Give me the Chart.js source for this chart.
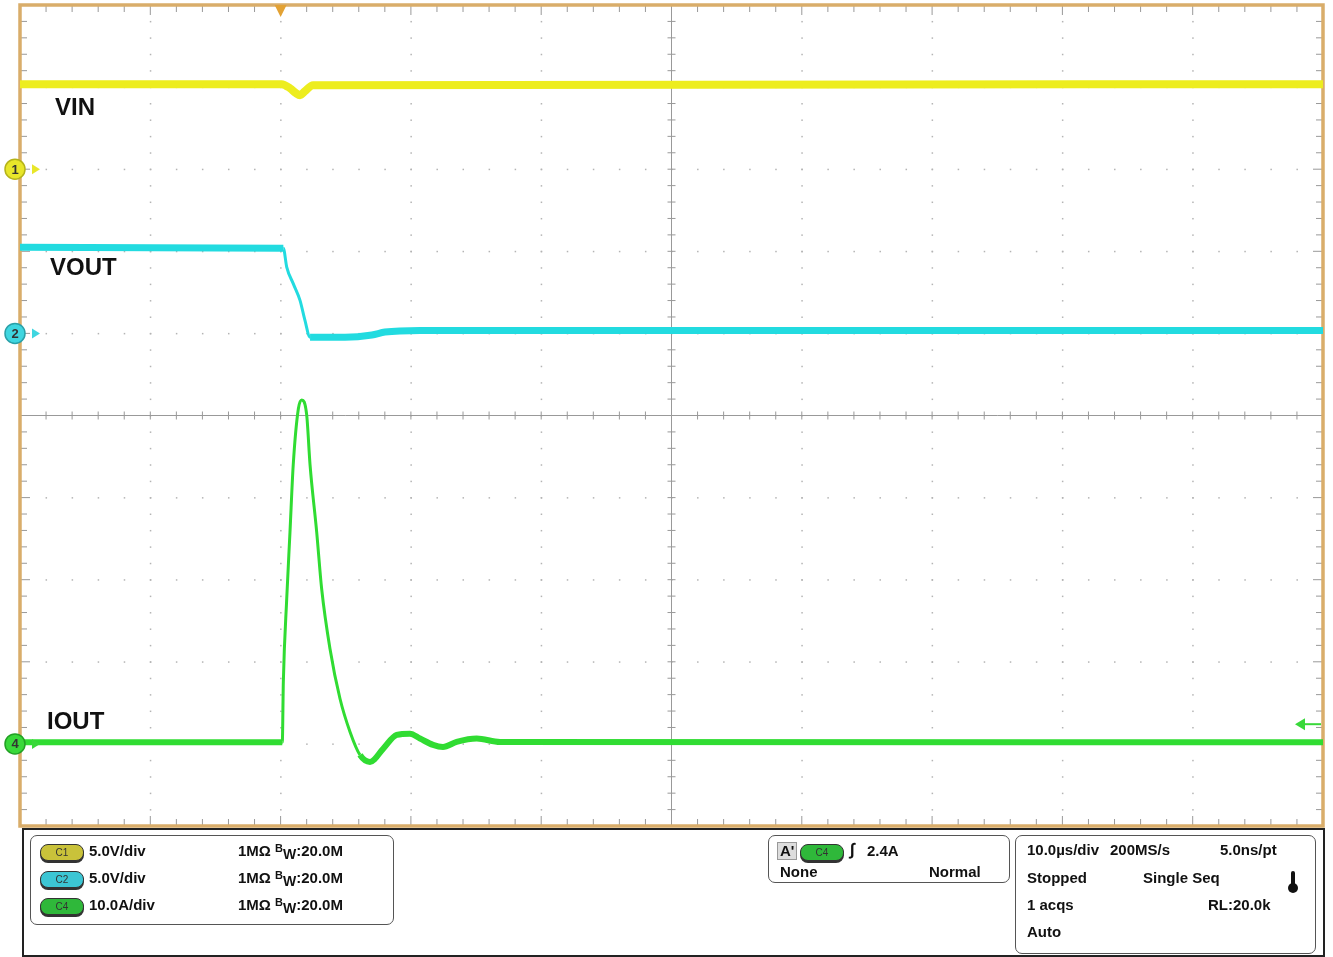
<!DOCTYPE html>
<html>
<head>
<meta charset="utf-8">
<script src="https://cdn.jsdelivr.net/npm/chart.js@4.4.1/dist/chart.umd.min.js"></script>
<style>
  body { margin: 0; background: #fff; font-family: "Liberation Sans", Arial, sans-serif; }
  #wrap { position: relative; width: 1333px; height: 957px; }
  #scope { position: absolute; left: 0; top: 0; }
  .t { position: absolute; font-size: 15px; font-weight: bold; line-height: 18px; color: #111; white-space: nowrap; }
  .box { position: absolute; border: 1.5px solid #555; border-radius: 7px; }
  .pill { position: absolute; width: 42px; height: 15px; border-radius: 8px; border: 1px solid #333;
          font-size: 10px; line-height: 15px; text-align: center; color: #333; box-shadow: 0 2px 0 #333; }
  .sub { font-size: 11px; position: relative; top: -4px; }
  .sub2 { position: relative; top: 3px; font-size: 14px; }
</style>
</head>
<body>
<div id="wrap">
  <canvas id="scope" width="1333" height="957"></canvas>

  <div style="position:absolute;left:22px;top:828px;width:1299px;height:125px;border:2px solid #222;"></div>

  <div class="box" style="left:30px;top:835px;width:362px;height:88px;"></div>
  <div class="pill" style="left:40px;top:844px;background:#c9c23a;">C1</div>
  <div class="pill" style="left:40px;top:871px;background:#3cc6d4;">C2</div>
  <div class="pill" style="left:40px;top:898px;background:#2fb83a;">C4</div>
  <div class="t" style="left:89px;top:842px;">5.0V/div</div>
  <div class="t" style="left:89px;top:869px;">5.0V/div</div>
  <div class="t" style="left:89px;top:896px;">10.0A/div</div>
  <div class="t" style="left:238px;top:842px;">1MΩ <span class="sub">B</span><span class="sub2">W</span>:20.0M</div>
  <div class="t" style="left:238px;top:869px;">1MΩ <span class="sub">B</span><span class="sub2">W</span>:20.0M</div>
  <div class="t" style="left:238px;top:896px;">1MΩ <span class="sub">B</span><span class="sub2">W</span>:20.0M</div>

  <div class="box" style="left:768px;top:835px;width:240px;height:46px;"></div>
  <div class="t" style="left:777px;top:842px;background:#ddd;border:1px solid #999;padding:0 2px;line-height:16px;">A'</div>
  <div class="pill" style="left:800px;top:844px;background:#2fb83a;">C4</div>
  <div class="t" style="left:850px;top:841px;font-size:17px;font-style:italic;">∫</div>
  <div class="t" style="left:867px;top:842px;">2.4A</div>
  <div class="t" style="left:780px;top:863px;">None</div>
  <div class="t" style="left:929px;top:863px;">Normal</div>

  <div class="box" style="left:1015px;top:835px;width:299px;height:117px;"></div>
  <div class="t" style="left:1027px;top:841px;">10.0µs/div</div>
  <div class="t" style="left:1110px;top:841px;">200MS/s</div>
  <div class="t" style="left:1220px;top:841px;">5.0ns/pt</div>
  <div class="t" style="left:1027px;top:869px;">Stopped</div>
  <div class="t" style="left:1143px;top:869px;">Single Seq</div>
  <div class="t" style="left:1027px;top:896px;">1 acqs</div>
  <div class="t" style="left:1208px;top:896px;">RL:20.0k</div>
  <div class="t" style="left:1027px;top:923px;">Auto</div>
  <div style="position:absolute;left:1291px;top:871px;width:4px;height:16px;background:#111;border-radius:2px;"></div>
  <div style="position:absolute;left:1288px;top:883px;width:10px;height:10px;background:#111;border-radius:5px;"></div>
</div>

<script>
// time in microseconds (10 us/div, trigger at 20 us)
const vinTime = [0, 20.08, 20.72, 21.18, 21.49, 21.87, 22.49, 100];
const vinVolts = [5.18, 5.18, 4.93, 4.63, 4.51, 4.75, 5.12, 5.18];

const voutTime = [0, 20.21, 20.47, 20.97, 21.49, 21.87, 22.26, 24.94, 27.01, 28.01, 30.70, 100];
const voutVolts = [5.25, 5.18, 4.04, 3.03, 2.01, 0.79, -0.23, -0.24, -0.1, 0.08, 0.18, 0.18];

const ioutTime = [0, 20.13, 20.21, 20.47, 20.72, 20.97, 21.36, 21.62, 22.00, 22.26, 22.77, 23.15,
                  23.79, 24.56, 25.33, 26.09, 26.86, 27.88, 28.91, 29.93, 30.70, 31.70, 32.46,
                  33.51, 35.05, 36.84, 100];
const ioutAmps = [0.2, 0.2, 7.55, 17.7, 25.8, 34.0, 40.8, 41.9, 40.1, 34.0, 25.8, 18.9,
                  11.6, 5.5, 1.46, -1.34, -2.19, -0.57, 1.10, 1.25, 0.65, -0.12, -0.37,
                  0.24, 0.65, 0.24, 0.2];

const traceNames = ['VIN', 'VOUT', 'IOUT'];
const triggerTime = 20;
const triggerLevel = 2.4;

const pts = (xs, ys) => xs.map((t, i) => ({ x: t, y: ys[i] }));
// steep edges are drawn thinner than the noisy flat parts
const slimOnSlope = w => ({
  borderWidth: c => Math.abs(c.p1.y - c.p0.y) / Math.max(c.p1.x - c.p0.x, 0.5) > 1.5 ? 3 : w
});

const graticule = {
  id: 'graticule',
  beforeDatasetsDraw(chart) {
    const { ctx, chartArea: a, scales: { x, yI } } = chart;
    const stepY = a.height / 50, stepX = a.width / 50;
    const cx = x.getPixelForValue(50), cy = yI.getPixelForValue(40);
    ctx.save();
    ctx.fillStyle = '#b4b4b4';
    for (let i = 1; i < 10; i++) {
      if (i === 5) continue;
      const px = x.getPixelForValue(i * 10);
      for (let k = 1; k < 50; k++) ctx.fillRect(px - 0.5, a.top + k * stepY - 0.5, 1.5, 1.5);
      const py = yI.getPixelForValue(i * 10 - 10);
      for (let k = 1; k < 50; k++) ctx.fillRect(a.left + k * stepX - 0.5, py - 0.5, 1.5, 1.5);
    }
    ctx.strokeStyle = '#999';
    ctx.lineWidth = 1;
    ctx.beginPath();
    ctx.moveTo(cx, a.top); ctx.lineTo(cx, a.bottom);
    ctx.moveTo(a.left, cy); ctx.lineTo(a.right, cy);
    for (let k = 1; k < 50; k++) {
      const ty = a.top + k * stepY, tx = a.left + k * stepX;
      ctx.moveTo(cx - 4, ty); ctx.lineTo(cx + 4, ty);
      ctx.moveTo(tx, cy - 4); ctx.lineTo(tx, cy + 4);
      const len = k % 5 === 0 ? 10 : 7;
      ctx.moveTo(a.left, ty); ctx.lineTo(a.left + len, ty);
      ctx.moveTo(a.right, ty); ctx.lineTo(a.right - len, ty);
      ctx.moveTo(tx, a.top); ctx.lineTo(tx, a.top + len);
      ctx.moveTo(tx, a.bottom); ctx.lineTo(tx, a.bottom - len);
    }
    ctx.stroke();
    ctx.strokeStyle = '#d9ad6a';
    ctx.lineWidth = 3.5;
    ctx.strokeRect(a.left, a.top, a.width, a.height);
    ctx.restore();
  },
  afterDatasetsDraw(chart) {
    const { ctx, chartArea: a, scales: { x, yV1, yV2, yI } } = chart;
    ctx.save();
    // trace labels
    ctx.fillStyle = '#111';
    ctx.font = 'bold 24px "Liberation Sans", Arial, sans-serif';
    ctx.textBaseline = 'middle';
    ctx.fillText(traceNames[0], 55, 108);
    ctx.fillText(traceNames[1], 50, 268);
    ctx.fillText(traceNames[2], 47, 722);
    // channel ground markers
    const marks = [
      [yV1.getPixelForValue(0), '#e8e62a', '#b5b31a', '1'],
      [yV2.getPixelForValue(0), '#3fd6e0', '#2aa0a8', '2'],
      [yI.getPixelForValue(0), '#39d83a', '#22a024', '4']
    ];
    for (const [py, fill, ring, label] of marks) {
      ctx.fillStyle = fill;
      ctx.beginPath();
      ctx.moveTo(32, py - 5); ctx.lineTo(40, py); ctx.lineTo(32, py + 5); ctx.closePath();
      ctx.fill();
      ctx.beginPath();
      ctx.arc(15, py, 10, 0, Math.PI * 2);
      ctx.fill();
      ctx.strokeStyle = ring; ctx.lineWidth = 1.5; ctx.stroke();
      ctx.fillStyle = '#333';
      ctx.font = 'bold 13px "Liberation Sans", Arial, sans-serif';
      ctx.textAlign = 'center';
      ctx.fillText(label, 15, py + 1);
      ctx.textAlign = 'left';
    }
    // trigger position
    const tx = x.getPixelForValue(triggerTime);
    ctx.fillStyle = '#e3a234';
    ctx.beginPath();
    ctx.moveTo(tx - 6, a.top); ctx.lineTo(tx + 6, a.top); ctx.lineTo(tx, a.top + 12); ctx.closePath();
    ctx.fill();
    // trigger level
    const ty = yI.getPixelForValue(triggerLevel);
    ctx.fillStyle = '#39d83a';
    ctx.beginPath();
    ctx.moveTo(a.right - 28, ty); ctx.lineTo(a.right - 18, ty - 6); ctx.lineTo(a.right - 18, ty + 6); ctx.closePath();
    ctx.fill();
    ctx.fillRect(a.right - 18, ty - 1, 16, 2);
    ctx.restore();
  }
};

new Chart(document.getElementById('scope'), {
  type: 'line',
  data: {
    datasets: [
      { label: 'VIN', data: pts(vinTime, vinVolts), yAxisID: 'yV1', borderColor: '#eded1e', borderWidth: 8,
        segment: slimOnSlope(8) },
      { label: 'VOUT', data: pts(voutTime, voutVolts), yAxisID: 'yV2', borderColor: '#22dbe0', borderWidth: 7,
        segment: slimOnSlope(7) },
      { label: 'IOUT', data: pts(ioutTime, ioutAmps), yAxisID: 'yI', borderColor: '#30dc32', borderWidth: 6,
        segment: slimOnSlope(6) }
    ]
  },
  options: {
    responsive: false,
    animation: false,
    layout: { padding: { left: 20, top: 5, right: 10, bottom: 131 } },
    elements: { point: { radius: 0 }, line: { cubicInterpolationMode: 'monotone' } },
    plugins: { legend: { display: false }, tooltip: { enabled: false } },
    scales: {
      x: { type: 'linear', min: 0, max: 100, display: false },
      yV1: { min: -40, max: 10, display: false },
      yV2: { min: -30, max: 20, display: false },
      yI: { min: -10, max: 90, display: false }
    }
  },
  plugins: [graticule]
});
</script>
</body>
</html>
